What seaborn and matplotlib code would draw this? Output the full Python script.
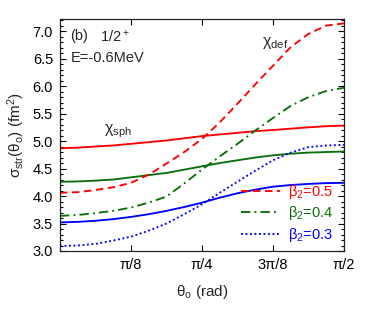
import numpy as np
import pandas as pd
import matplotlib
matplotlib.use("Agg")
import matplotlib.pyplot as plt
from matplotlib.ticker import MultipleLocator, FixedLocator
import seaborn as sns

# angle samples, in units of pi/32
theta_steps = list(range(17))

sph_b05 = [4.87, 4.88, 4.90, 4.92, 4.95, 4.98, 5.01, 5.05, 5.09,
           5.12, 5.15, 5.18, 5.20, 5.225, 5.25, 5.27, 5.28]
def_b05 = [4.06, 4.07, 4.11, 4.16, 4.24, 4.39, 4.59, 4.80, 5.04,
           5.34, 5.68, 6.03, 6.37, 6.71, 6.95, 7.10, 7.14]
sph_b04 = [4.26, 4.265, 4.28, 4.30, 4.34, 4.38, 4.42, 4.48, 4.54,
           4.60, 4.65, 4.70, 4.74, 4.77, 4.79, 4.80, 4.81]
def_b04 = [3.64, 3.655, 3.69, 3.73, 3.79, 3.88, 3.99, 4.23, 4.48,
           4.72, 4.95, 5.19, 5.42, 5.64, 5.80, 5.91, 5.97]
sph_b03 = [3.52, 3.53, 3.55, 3.58, 3.62, 3.67, 3.73, 3.80, 3.88,
           3.97, 4.05, 4.115, 4.17, 4.20, 4.22, 4.235, 4.24]
def_b03 = [3.09, 3.10, 3.13, 3.19, 3.26, 3.37, 3.50, 3.67, 3.85,
           4.06, 4.26, 4.46, 4.65, 4.79, 4.89, 4.92, 4.93]

xtick_vals = [np.pi / 8, np.pi / 4, 3 * np.pi / 8, np.pi / 2]
xtick_labels = ["π/8", "π/4", "3π/8", "π/2"]
legend_labels = [r"$\mathregular{β_2}$=0.5", r"$\mathregular{β_2}$=0.4", r"$\mathregular{β_2}$=0.3"]

sns.set_style("ticks")
plt.rcParams['font.family'] = ['Liberation Sans', 'DejaVu Sans']
plt.rcParams['mathtext.fontset'] = 'custom'
plt.rcParams['mathtext.rm'] = 'Liberation Sans'
plt.rcParams['mathtext.it'] = 'Liberation Sans:italic'

fig = plt.figure(figsize=(3.74, 3.2), dpi=100)
ax = fig.add_axes([60 / 374, 1 - 251 / 320, 284 / 374, 232 / 320])

x = np.array(theta_steps) * np.pi / 32

red = "#ff0000"
green = "#0a6e0a"
blue = "#0000ff"
lw = 1.35

series = [
    (sph_b05, red, "-", None),
    (sph_b04, green, "-", None),
    (sph_b03, blue, "-", None),
    (def_b05, red, (0, (4.0, 2.4)), legend_labels[0]),
    (def_b04, green, (0, (5.0, 2.2, 1.0, 2.2)), legend_labels[1]),
    (def_b03, blue, (0, (1.0, 1.4)), legend_labels[2]),
]
for vals, col, ls, lab in series:
    df = pd.DataFrame({"theta": x, "sigma": vals})
    sns.lineplot(data=df, x="theta", y="sigma", ax=ax, color=col,
                 linestyle=ls, linewidth=lw, label=lab, sort=False,
                 estimator=None, legend=False)

ax.set_xlim(0, np.pi / 2)
ax.set_ylim(3.0, 7.22)
ax.xaxis.set_major_locator(FixedLocator(xtick_vals))
ax.set_xticklabels(xtick_labels)
ax.yaxis.set_major_locator(MultipleLocator(0.5))
ax.yaxis.set_minor_locator(MultipleLocator(0.1))
ax.yaxis.set_major_formatter(matplotlib.ticker.FormatStrFormatter('%.1f'))
ax.tick_params(axis='both', which='both', direction='in', top=True, right=True,
               labelsize=10.5, colors='black', width=0.8)
ax.tick_params(axis='both', which='major', length=4, pad=5)
ax.tick_params(axis='y', which='minor', length=2)
for s in ax.spines.values():
    s.set_color('#222222')
    s.set_linewidth(0.9)

ax.set_xlabel(r"$\mathregular{θ_o}$ (rad)", fontsize=11, labelpad=8)
ax.set_ylabel(r"$\mathregular{σ_{str}(θ_o)\ (fm^2)}$", fontsize=11, labelpad=4)

ax.text(0.035, 0.925, "(b)", transform=ax.transAxes, fontsize=10.5, va='center', ha='left')
ax.text(0.141, 0.925, r"$\mathregular{1/2^+}$", transform=ax.transAxes, fontsize=10.5, va='center', ha='left')
ax.text(0.039, 0.830, "E=-0.6MeV", transform=ax.transAxes, fontsize=10.5, va='center', ha='left')
ax.text(0.204, 0.517, r"$\mathregular{χ_{sph}}$", transform=ax.transAxes, fontsize=11.5, va='center', ha='center')
ax.text(0.757, 0.897, r"$\mathregular{χ_{def}}$", transform=ax.transAxes, fontsize=11.5, va='center', ha='center')

handles, labels = ax.get_legend_handles_labels()
leg = ax.legend(handles, labels, loc='lower right', frameon=False, fontsize=10.5,
                handlelength=2.7, handletextpad=0.5, labelspacing=0.25,
                borderpad=0, borderaxespad=0, bbox_to_anchor=(0.961, 0.03),
                labelcolor='linecolor')

fig.savefig("out.png", dpi=100)
